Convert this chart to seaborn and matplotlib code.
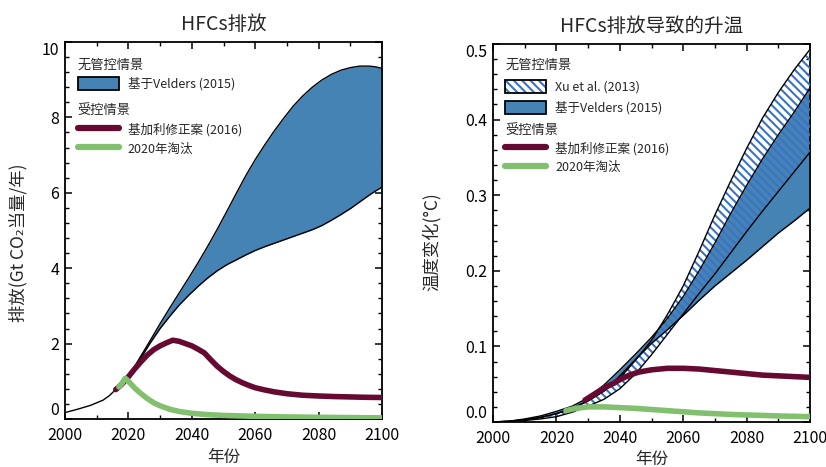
import numpy as np
import pandas as pd
import matplotlib
matplotlib.use('Agg')
import matplotlib.pyplot as plt
import seaborn as sns
from matplotlib.patches import Patch
from matplotlib.lines import Line2D
from matplotlib.legend_handler import HandlerTuple
from matplotlib.ticker import MultipleLocator, FormatStrFormatter

# ---------------- data: left panel (emissions, Gt CO2-eq / yr) ----------------
hist_years = [2000, 2004, 2008, 2012, 2014, 2016, 2018, 2019]
hist_vals = [0.17, 0.26, 0.36, 0.50, 0.62, 0.78, 0.95, 1.05]

band_years = [2019, 2021, 2023, 2025, 2027, 2030, 2033, 2036, 2039, 2042, 2045,
              2048, 2051, 2054, 2057, 2060, 2063, 2066, 2069, 2072, 2075, 2078,
              2081, 2084, 2087, 2090, 2093, 2096, 2098, 2100]
velders_upper = [1.05, 1.27, 1.54, 1.82, 2.10, 2.53, 2.94, 3.34, 3.74, 4.15, 4.58,
                 5.03, 5.50, 5.98, 6.45, 6.88, 7.27, 7.64, 7.98, 8.30, 8.57, 8.80,
                 8.99, 9.14, 9.25, 9.32, 9.36, 9.36, 9.34, 9.30]
velders_lower = [1.05, 1.25, 1.50, 1.76, 2.03, 2.40, 2.72, 3.02, 3.28, 3.52, 3.74,
                 3.93, 4.09, 4.22, 4.35, 4.47, 4.57, 4.66, 4.75, 4.84, 4.93, 5.02,
                 5.13, 5.27, 5.42, 5.58, 5.76, 5.94, 6.05, 6.15]

kigali_years = [2016, 2017, 2018, 2019, 2020, 2022, 2024, 2026, 2028, 2030, 2032,
                2034, 2036, 2038, 2040, 2042, 2044, 2046, 2048, 2050, 2052, 2054,
                2056, 2058, 2060, 2063, 2066, 2070, 2075, 2080, 2085, 2090, 2095, 2100]
kigali_vals = [0.78, 0.85, 0.93, 1.02, 1.12, 1.33, 1.52, 1.70, 1.84, 1.94, 2.02,
               2.09, 2.06, 2.00, 1.94, 1.85, 1.75, 1.57, 1.40, 1.26, 1.14, 1.04,
               0.96, 0.89, 0.83, 0.77, 0.72, 0.67, 0.63, 0.61, 0.595, 0.585, 0.575, 0.57]

phase_years = [2017, 2018, 2019, 2020, 2021, 2022, 2024, 2026, 2028, 2030, 2033,
               2036, 2040, 2045, 2050, 2060, 2070, 2080, 2090, 2100]
phase_vals = [0.85, 0.95, 1.08, 1.00, 0.91, 0.82, 0.67, 0.54, 0.43, 0.35, 0.26,
              0.20, 0.15, 0.115, 0.095, 0.07, 0.055, 0.045, 0.037, 0.03]

# ---------------- data: right panel (temperature change, degC) ----------------
t_years = [2000, 2005, 2010, 2015, 2020, 2025, 2030, 2035, 2040, 2045, 2050,
           2055, 2060, 2065, 2070, 2075, 2080, 2085, 2090, 2095, 2100]
t_velders_upper = [0, 0.001, 0.004, 0.008, 0.014, 0.021, 0.032, 0.049, 0.069, 0.090,
                   0.112, 0.137, 0.166, 0.200, 0.237, 0.276, 0.313, 0.348, 0.380,
                   0.410, 0.442]
t_velders_lower = [0, 0.001, 0.003, 0.006, 0.011, 0.018, 0.028, 0.041, 0.061, 0.083,
                   0.104, 0.122, 0.141, 0.161, 0.180, 0.197, 0.214, 0.232, 0.250,
                   0.266, 0.283]
t_xu_upper = [0, 0.001, 0.003, 0.006, 0.011, 0.018, 0.028, 0.041, 0.058, 0.082,
              0.108, 0.142, 0.180, 0.226, 0.274, 0.319, 0.362, 0.402, 0.436,
              0.466, 0.493]
t_xu_lower = [0, 0.0005, 0.002, 0.004, 0.007, 0.013, 0.021, 0.030, 0.044, 0.064,
              0.089, 0.116, 0.143, 0.170, 0.196, 0.224, 0.252, 0.279, 0.305,
              0.331, 0.357]

t_kigali_years = [2029, 2032, 2035, 2038, 2040, 2043, 2046, 2050, 2055, 2060, 2065,
                  2070, 2075, 2080, 2085, 2090, 2095, 2100]
t_kigali_vals = [0.029, 0.037, 0.045, 0.051, 0.056, 0.062, 0.066, 0.069, 0.071,
                 0.071, 0.070, 0.068, 0.066, 0.064, 0.062, 0.061, 0.060, 0.059]

t_phase_years = [2023, 2026, 2030, 2035, 2040, 2045, 2050, 2055, 2060, 2065, 2070,
                 2075, 2080, 2085, 2090, 2095, 2100]
t_phase_vals = [0.015, 0.018, 0.020, 0.020, 0.019, 0.018, 0.0165, 0.015, 0.0135,
                0.012, 0.011, 0.010, 0.0093, 0.0087, 0.008, 0.0075, 0.007]

# ---------------- text ----------------
title_left = 'HFCs排放'
title_right = 'HFCs排放导致的升温'
ylabel_left = '排放(Gt CO₂当量/年)'
ylabel_right = '温度变化(°C)'
xlabel = '年份'
hdr_uncontrolled = '无管控情景'
hdr_controlled = '受控情景'
lbl_velders = '基于Velders (2015)'
lbl_xu = 'Xu et al. (2013)'
lbl_kigali = '基加利修正案 (2016)'
lbl_phase = '2020年淘汰'

# ---------------- style ----------------
BLUE = '#4683b5'
HATCH_BLUE = '#3a73c4'
MAROON = '#660a32'
GREEN = '#82c06f'
HATCH = '\\' * 4

sns.set_theme(style='ticks')
plt.rcParams['font.family'] = ['Noto Sans CJK SC', 'DejaVu Sans']
plt.rcParams['hatch.linewidth'] = 1.5
plt.rcParams['axes.unicode_minus'] = False

fig = plt.figure(figsize=(8.26, 4.67), dpi=100)
ax1 = fig.add_axes([0.0787, 0.1028, 0.3838, 0.8073])
ax2 = fig.add_axes([0.5969, 0.0964, 0.3838, 0.8094])


def style_axes(ax, ymajor, yminor, ylim):
    ax.set_xlim(2000, 2100)
    ax.set_ylim(*ylim)
    ax.xaxis.set_major_locator(MultipleLocator(20))
    ax.xaxis.set_minor_locator(MultipleLocator(10))
    ax.yaxis.set_major_locator(MultipleLocator(ymajor))
    ax.yaxis.set_minor_locator(MultipleLocator(yminor))
    ax.tick_params(which='both', direction='in', top=True, right=True,
                   colors='black', labelsize=11.5)
    ax.tick_params(which='major', length=5, width=1.1)
    ax.tick_params(which='minor', length=3, width=1.0)
    ax.tick_params(axis='x', pad=6)
    ax.tick_params(axis='y', pad=4)
    for s in ax.spines.values():
        s.set_linewidth(1.3)
        s.set_color('black')


# ---------------- left panel ----------------
ax1.fill_between(band_years, velders_lower, velders_upper, facecolor=BLUE,
                 linewidth=0, zorder=2)
for yv in (velders_upper, velders_lower):
    sns.lineplot(x=band_years, y=yv, ax=ax1, color='black', linewidth=1.0,
                 legend=False, zorder=3)
sns.lineplot(x=hist_years, y=hist_vals, ax=ax1, color='black', linewidth=1.0,
             legend=False, zorder=3)
sns.lineplot(x=kigali_years, y=kigali_vals, ax=ax1, color=MAROON, linewidth=4.0,
             legend=False, zorder=4)
sns.lineplot(x=phase_years, y=phase_vals, ax=ax1, color=GREEN, linewidth=4.0,
             legend=False, zorder=5)
style_axes(ax1, 2, 0.4, (0, 10))
ax1.set_title(title_left, fontsize=14, pad=9)
ax1.set_ylabel(ylabel_left, fontsize=12.5)
ax1.yaxis.set_label_coords(-0.118, 0.467)
ax1.set_xlabel(xlabel, fontsize=12, labelpad=3)

# ---------------- right panel ----------------
ax2.fill_between(t_years, t_velders_lower, t_velders_upper, facecolor=BLUE,
                 linewidth=0, zorder=2)
ax2.fill_between(t_years, t_xu_lower, t_xu_upper, facecolor='none',
                 edgecolor=HATCH_BLUE, linewidth=0, hatch=HATCH, zorder=3)
for yv in (t_velders_upper, t_velders_lower, t_xu_upper, t_xu_lower):
    sns.lineplot(x=t_years, y=yv, ax=ax2, color='black', linewidth=1.0,
                 legend=False, zorder=4)
sns.lineplot(x=t_kigali_years, y=t_kigali_vals, ax=ax2, color=MAROON,
             linewidth=4.0, legend=False, zorder=5)
sns.lineplot(x=t_phase_years, y=t_phase_vals, ax=ax2, color=GREEN,
             linewidth=4.0, legend=False, zorder=5)
style_axes(ax2, 0.1, 0.02, (0, 0.5))
ax2.yaxis.set_major_formatter(FormatStrFormatter('%.1f'))
ax2.set_title(title_right, fontsize=14, pad=9)
ax2.set_ylabel(ylabel_right, fontsize=12.5)
ax2.yaxis.set_label_coords(-0.165, 0.476)
ax2.set_xlabel(xlabel, fontsize=12, labelpad=3)

# ---------------- legends ----------------
velders_patch = Patch(facecolor=BLUE, edgecolor='black', linewidth=1.3)
xu_hatch = Patch(facecolor='white', edgecolor=HATCH_BLUE, linewidth=0, hatch=HATCH)
xu_edge = Patch(facecolor='none', edgecolor='black', linewidth=1.3)
kigali_line = Line2D([], [], color=MAROON, linewidth=4.5)
phase_line = Line2D([], [], color=GREEN, linewidth=4.5)

leg_kw = dict(frameon=False, loc='upper left', alignment='left', fontsize=9,
              title_fontsize=9.5, handlelength=3.3, handleheight=1.25,
              handletextpad=0.7, borderpad=0, borderaxespad=0)

l1 = ax1.legend([velders_patch], [lbl_velders], title=hdr_uncontrolled,
                bbox_to_anchor=(0.040, 0.957), labelspacing=0.45, **leg_kw)
ax1.add_artist(l1)
l2 = ax1.legend([kigali_line, phase_line], [lbl_kigali, lbl_phase],
                title=hdr_controlled, bbox_to_anchor=(0.040, 0.836),
                labelspacing=0.45, **leg_kw)

r1 = ax2.legend([(xu_hatch, xu_edge), velders_patch], [lbl_xu, lbl_velders],
                title=hdr_uncontrolled, bbox_to_anchor=(0.038, 0.960),
                labelspacing=0.6,
                handler_map={tuple: HandlerTuple(ndivide=1, pad=0)}, **leg_kw)
ax2.add_artist(r1)
r2 = ax2.legend([kigali_line, phase_line], [lbl_kigali, lbl_phase],
                title=hdr_controlled, bbox_to_anchor=(0.038, 0.789),
                labelspacing=0.4, **leg_kw)

# nudge end tick labels inward like the reference
fig.canvas.draw()
for ax in (ax1, ax2):
    lo, hi = ax.get_ylim()
    for tick in ax.yaxis.get_major_ticks():
        loc = tick.get_loc()
        if abs(loc - lo) < 1e-9:
            tick.label1.set_verticalalignment('bottom')
        elif abs(loc - hi) < 1e-9:
            tick.label1.set_verticalalignment('top')

fig.savefig('out.png', dpi=100)
